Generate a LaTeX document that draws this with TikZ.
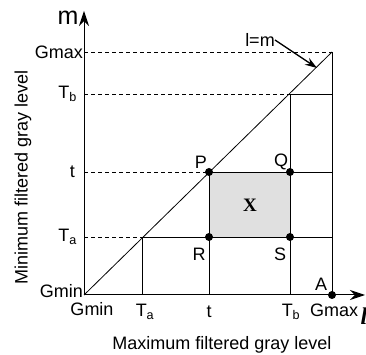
\documentclass[tikz,border=0pt]{standalone}
\usepackage{fontspec}
\setmainfont{Liberation Sans}
\newfontfamily\serifx{Liberation Serif}
\usetikzlibrary{arrows.meta,positioning,calc}

\begin{document}
\begin{tikzpicture}[x=1pt,y=1pt, every node/.style={font=\fontsize{18}{20}\selectfont,inner sep=0pt}]
\tikzset{axis/.style={-{Stealth[length=15pt,width=10pt]},line width=1pt},
  guide/.style={dash pattern=on 4pt off 3pt,line width=0.7pt},
  edge/.style={line width=0.8pt},
  dot/.style={circle,fill=black,inner sep=0pt,minimum size=8pt}}
\useasboundingbox (-84,-60) rectangle (282,295);
% corner points
\coordinate (O) at (0,0);
\coordinate (gmaxl) at (248,0);
\coordinate (gmaxm) at (0,243);
\coordinate (top) at (248,243);
\coordinate (lend) at (281,0);
\coordinate (mend) at (0,284);
% region X
\fill[black!12] (125,58) rectangle (206,123);
\node[font=\serifx\bfseries\fontsize{19}{21}\selectfont] (xlab) at (166,90) {X};
% diagonal points
\coordinate (dTa) at (58,58);
\coordinate (P) at (125,123);
\coordinate (dTb) at (206,201);
\coordinate (Q) at (206,123);
\coordinate (R) at (125,58);
\coordinate (S) at (206,58);
\coordinate (ra) at (248,58);
\coordinate (rt) at (248,123);
\coordinate (rb) at (248,201);
\coordinate (xTa) at (58,0);
\coordinate (xt) at (125,0);
\coordinate (xTb) at (206,0);
\coordinate (yTa) at (0,58);
\coordinate (yt) at (0,123);
\coordinate (yTb) at (0,201);
% axes
\draw[axis] (O)--(lend);
\draw[axis] (O)--(mend);
\draw[edge] (O)--(top);
% dashed guides
\draw[guide] (gmaxm)--(top);
\draw[guide] (yTb)--(dTb);
\draw[guide] (yt)--(P);
\draw[guide] (yTa)--(dTa);
% grid
\draw[edge] (dTb)--(rb);
\draw[edge] (P)--(rt);
\draw[edge] (dTa)--(ra);
\draw[edge] (xTa)--(dTa);
\draw[edge] (xt)--(P);
\draw[edge] (xTb)--(dTb);
\draw[edge] (gmaxl)--(top);
% points
\node[dot] at (P) {};
\node[dot] at (Q) {};
\node[dot] at (R) {};
\node[dot] at (S) {};
\node[dot] at (gmaxl) {};
\node (plab) at (117,133) {P};
\node (qlab) at (197,133) {Q};
\node (rlab) at (115,41) {R};
\node (slab) at (196,41) {S};
\node (alab) at (237,11) {A};
% l=m label
\node (lm) at (176,255) {l=m};
\coordinate (lmtip) at (233,227);
\draw[-{Stealth[length=12pt,width=8pt]},line width=1.3pt] (lm.east)--(lmtip);
% axis names
\node[font=\fontsize{25}{27}\selectfont] (mlab) at (-16,277) {m};
\node[font=\serifx\bfseries\itshape\fontsize{24}{26}\selectfont] (llab) at (280,-21) {l};
% tick labels on m
\node[anchor=east] (mGmax) at (-1,243) {Gmax};
\node[anchor=east] (mTb) at (-7,201) {T\textsubscript{b}};
\node[anchor=east] (mt) at (-9,123) {t};
\node[anchor=east] (mTa) at (-7,58) {T\textsubscript{a}};
\node[anchor=east] (mGmin) at (-1,4) {Gmin};
% tick labels on l
\node (lGmin) at (8,-14) {Gmin};
\node (lTa) at (61,-17) {T\textsubscript{a}};
\node (lt) at (125,-17) {t};
\node (lTb) at (207,-17) {T\textsubscript{b}};
\node (lGmax) at (250,-15) {Gmax};
% titles
\node (xtitle) at (138,-50) {Maximum filtered gray level};
\node[rotate=90] (ytitle) at (-61,118) {Minimum filtered gray level};
\end{tikzpicture}
\end{document}
